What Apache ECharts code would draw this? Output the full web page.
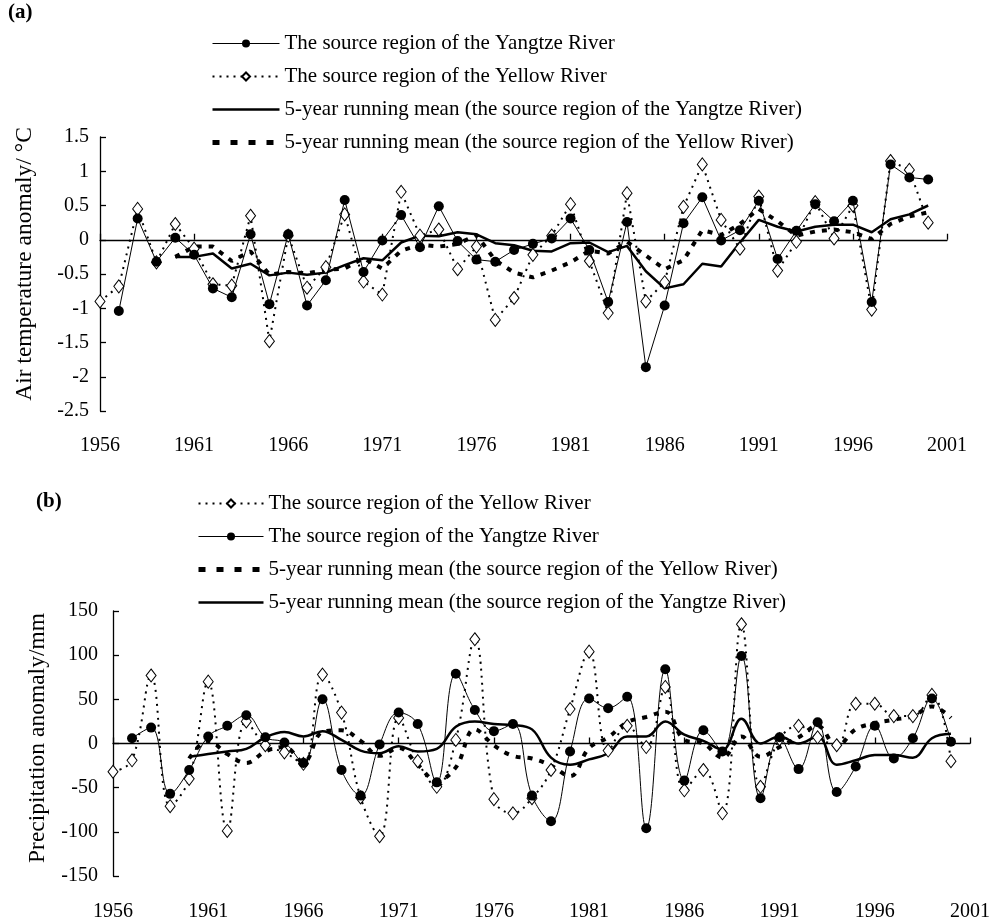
<!DOCTYPE html>
<html>
<head>
<meta charset="utf-8">
<script src="https://cdn.jsdelivr.net/npm/echarts@6/dist/echarts.min.js"></script>
<style>html,body{margin:0;padding:0;background:#fff}#c{width:1000px;height:920px}</style>
</head>
<body>
<div id="c"></div>
<script>
// Categories (years); 2001 is the axis end with no data
const years = ['1956','1957','1958','1959','1960','1961','1962','1963','1964','1965',
  '1966','1967','1968','1969','1970','1971','1972','1973','1974','1975',
  '1976','1977','1978','1979','1980','1981','1982','1983','1984','1985',
  '1986','1987','1988','1989','1990','1991','1992','1993','1994','1995',
  '1996','1997','1998','1999','2000','2001'];

// (a) Air temperature anomaly (°C), 1956-2000
const tempYangtze = [null,-1.04,0.31,-0.32,0.03,-0.22,-0.71,-0.84,0.08,-0.94,
  0.08,-0.96,-0.59,0.58,-0.47,-0.01,0.36,-0.11,0.49,-0.02,
  -0.29,-0.32,-0.15,-0.06,0.02,0.31,-0.15,-0.91,0.26,-1.86,
  -0.96,0.24,0.62,-0.01,0.14,0.57,-0.28,0.13,0.52,0.27,
  0.57,-0.91,1.10,0.91,0.88];
const tempYellow = [-0.90,-0.68,0.45,-0.33,0.23,-0.13,-0.65,-0.67,0.35,-1.48,
  0.06,-0.70,-0.40,0.37,-0.61,-0.80,0.70,0.06,0.15,-0.43,
  -0.10,-1.17,-0.85,-0.22,0.06,0.52,-0.31,-1.07,0.68,-0.90,
  -0.62,0.48,1.10,0.29,-0.13,0.63,-0.45,-0.03,0.55,0.02,
  0.50,-1.02,1.15,1.02,0.25];
const tempYangtzeRM = [null,null,null,null,-0.25,-0.25,-0.20,-0.42,-0.35,-0.52,
  -0.48,-0.51,-0.48,-0.37,-0.27,-0.30,-0.04,0.06,0.05,0.11,
  0.08,-0.05,-0.08,-0.16,-0.17,-0.05,-0.04,-0.18,-0.09,-0.46,
  -0.71,-0.65,-0.35,-0.39,-0.04,0.29,0.19,0.12,0.19,0.22,
  0.22,0.11,0.30,0.37,0.50];
const tempYellowRM = [null,null,null,null,-0.25,-0.10,-0.10,-0.31,-0.17,-0.51,
  -0.47,-0.49,-0.44,-0.42,-0.27,-0.42,-0.16,-0.07,-0.10,-0.06,
  0.07,-0.30,-0.48,-0.55,-0.45,-0.33,-0.16,-0.20,-0.03,-0.23,
  -0.43,-0.30,0.14,0.07,0.23,0.45,0.27,0.06,0.12,0.15,
  0.11,0.01,0.23,0.34,0.40];

// (b) Precipitation anomaly (mm), 1956-2000
const precYellow = [-32,-19,77,-71,-40,70,-99,25,-2,-10,
  -23,78,35,-61,-105,29,-20,-49,4,118,
  -63,-79,-62,-30,39,104,-8,20,-4,64,
  -53,-30,-79,135,-49,5,20,7,-2,45,
  45,31,31,55,-20];
const precYangtze = [null,6,18,-57,-30,8,20,32,7,1,
  -22,50,-30,-59,-1,35,22,-44,79,38,
  14,22,-59,-88,-9,51,40,53,-96,84,
  -42,15,-9,99,-62,7,-29,24,-55,-26,
  20,-17,6,51,2];
const precYellowRM = [null,null,null,null,-17,3,-12,-22,-9,-4,
  -21,13,15,3,-14,-5,-24,-42,-27,16,
  -2,-14,-17,-25,-37,-5,7,24,30,36,
  4,0,-16,8,-15,-4,7,20,-3,16,
  23,27,31,42,29];
const precYangtzeRM = [null,null,null,null,-15,-12,-9,-6,7,13,
  8,14,4,-8,-11,-3,-9,-6,19,25,
  22,21,16,-16,-24,-18,-11,8,8,25,
  10,3,-7,28,0,8,0,8,-24,-19,
  -13,-13,-16,6,11];

const N_YZ = 'The source region of the Yangtze River';
const N_YL = 'The source region of the Yellow River';
const N_RM_YZ = '5-year running mean (the source region of the Yangtze River)';
const N_RM_YL = '5-year running mean (the source region of the Yellow River)';

const FONT = '"Liberation Serif", "DejaVu Serif", serif';
const BLACK = '#000';
const RAW_YL_LINE = { color: BLACK, width: 2, type: [2, 5] };
const RAW_YZ_LINE = { color: BLACK, width: 1 };
const RM_YZ_LINE = { color: BLACK, width: 2.5, type: 'solid' };
const RM_YL_LINE = { color: BLACK, width: 4, type: [5, 7] };
const RM_YL_LEGEND_LINE = { color: BLACK, width: 5, type: [7, 11] };

function xAxes(grid, margin) {
  return [
    { gridIndex: grid, type: 'category', data: years, boundaryGap: false,
      axisLine: { show: false, onZero: false }, axisTick: { show: false },
      axisLabel: { interval: 4, margin: margin, fontFamily: FONT, fontSize: 20, color: BLACK },
      splitLine: { show: false } },
    { gridIndex: grid, type: 'category', data: years, boundaryGap: false, position: 'bottom',
      axisLine: { show: true, onZero: true, lineStyle: { color: BLACK, width: 1.3 } },
      axisTick: { show: true, inside: true, length: 6, interval: 4, lineStyle: { color: BLACK, width: 1.3 } },
      axisLabel: { show: false }, splitLine: { show: false } }
  ];
}
function yAxis(grid, min, max, interval, margin) {
  return { gridIndex: grid, type: 'value', min: min, max: max, interval: interval,
    axisLine: { show: true, onZero: false, lineStyle: { color: BLACK, width: 1.3 } },
    axisTick: { show: true, inside: true, length: 6, lineStyle: { color: BLACK, width: 1.3 } },
    axisLabel: { margin: margin, fontFamily: FONT, fontSize: 20, color: BLACK },
    splitLine: { show: false } };
}
function rawYangtze(data, xi, yi, smooth) {
  return { name: N_YZ, type: 'line', xAxisIndex: xi, yAxisIndex: yi, data: data, smooth: smooth,
    symbol: 'circle', symbolSize: 10, showAllSymbol: true, z: 5,
    itemStyle: { color: BLACK }, lineStyle: RAW_YZ_LINE };
}
function rawYellow(data, xi, yi, smooth) {
  return { name: N_YL, type: 'line', xAxisIndex: xi, yAxisIndex: yi, data: data, smooth: smooth,
    symbol: 'diamond', symbolSize: [10, 13], showAllSymbol: true, z: 4,
    itemStyle: { color: '#fff', borderColor: BLACK, borderWidth: 1 }, lineStyle: RAW_YL_LINE };
}
function rmYangtze(data, xi, yi, smooth) {
  return { name: N_RM_YZ, type: 'line', xAxisIndex: xi, yAxisIndex: yi, data: data, smooth: smooth,
    symbol: 'none', z: 3, lineStyle: RM_YZ_LINE };
}
function rmYellow(data, xi, yi, smooth) {
  return { name: N_RM_YL, type: 'line', xAxisIndex: xi, yAxisIndex: yi, data: data, smooth: smooth,
    symbol: 'none', z: 3, lineStyle: RM_YL_LINE };
}
function legendItem(n) {
  if (n === N_RM_YZ) return { name: n, itemStyle: { opacity: 0 }, lineStyle: RM_YZ_LINE };
  if (n === N_RM_YL) return { name: n, itemStyle: { opacity: 0 }, lineStyle: RM_YL_LEGEND_LINE };
  if (n === N_YL) return { name: n, lineStyle: RAW_YL_LINE };
  return { name: n, lineStyle: RAW_YZ_LINE };
}
function legend(left, top, order, itemWidth) {
  return { orient: 'vertical', left: left, top: top, padding: 0, itemWidth: itemWidth, itemHeight: 10,
    itemGap: 12, selectedMode: false,
    textStyle: { fontFamily: FONT, fontSize: 21, color: BLACK, lineHeight: 20 },
    data: order.map(legendItem) };
}

const chart = echarts.init(document.getElementById('c'), null, { renderer: 'canvas' });
chart.setOption({
  backgroundColor: '#fff',
  animation: false,
  grid: [
    { left: 100, top: 137, width: 847, height: 274, containLabel: false, outerBoundsMode: 'none' },
    { left: 113, top: 611, width: 857, height: 265, containLabel: false, outerBoundsMode: 'none' }
  ],
  xAxis: xAxes(0, 25).concat(xAxes(1, 26)),
  yAxis: [ yAxis(0, -2.5, 1.5, 0.5, 11), yAxis(1, -150, 150, 50, 15) ],
  legend: [
    legend(210, 33, [N_YZ, N_YL, N_RM_YZ, N_RM_YL], 67),
    legend(196, 493, [N_YL, N_YZ, N_RM_YL, N_RM_YZ], 65)
  ],
  series: [
    rmYangtze(tempYangtzeRM, 0, 0, false),
    rmYellow(tempYellowRM, 0, 0, false),
    rawYellow(tempYellow, 0, 0, false),
    rawYangtze(tempYangtze, 0, 0, false),
    rmYangtze(precYangtzeRM, 2, 1, 0.4),
    rmYellow(precYellowRM, 2, 1, 0.4),
    rawYellow(precYellow, 2, 1, 0.4),
    rawYangtze(precYangtze, 2, 1, 0.4)
  ],
  graphic: [
    { type: 'text', left: 8, top: 2, style: { text: '(a)', font: 'bold 21px ' + FONT, fill: BLACK } },
    { type: 'text', left: 36, top: 491, style: { text: '(b)', font: 'bold 21px ' + FONT, fill: BLACK } },
    { type: 'text', x: 25, y: 264, rotation: Math.PI / 2,
      style: { text: 'Air temperature anomaly/ °C', font: '23.5px ' + FONT, fill: BLACK,
        textAlign: 'center', textVerticalAlign: 'middle', align: 'center', verticalAlign: 'middle' } },
    { type: 'text', x: 38, y: 738, rotation: Math.PI / 2,
      style: { text: 'Precipitation anomaly/mm', font: '23.5px ' + FONT, fill: BLACK,
        textAlign: 'center', textVerticalAlign: 'middle', align: 'center', verticalAlign: 'middle' } }
  ]
});
</script>
</body>
</html>
